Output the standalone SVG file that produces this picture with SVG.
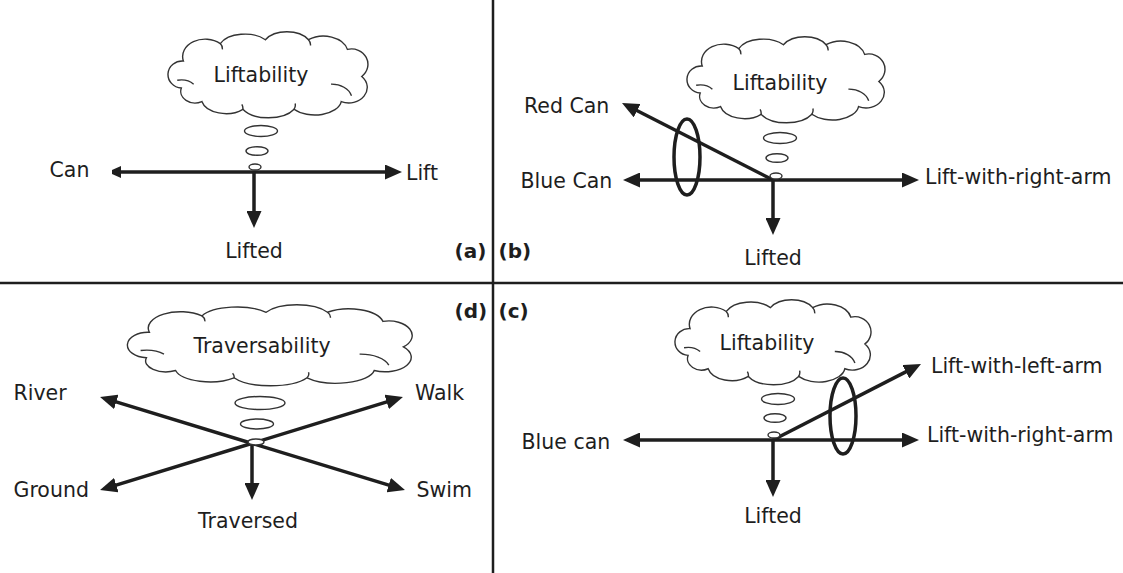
<svg xmlns="http://www.w3.org/2000/svg" width="1123" height="573" viewBox="0 0 1123 573">
<style>
text{font-family:"DejaVu Sans","Liberation Sans",sans-serif;font-size:20.5px;fill:#1e1e1e}
.lbl{font-weight:bold;font-size:20px}
.mid{text-anchor:middle}
.div{stroke:#1e1e1e;stroke-width:2.5;fill:none}
.arr{stroke:#1e1e1e;stroke-width:3.5;fill:none;marker-end:url(#ah)}
.arr2{stroke:#1e1e1e;stroke-width:3.5;fill:none;marker-end:url(#ah);marker-start:url(#ah)}
.cloud{fill:#fff;stroke:#333;stroke-width:1.4;vector-effect:non-scaling-stroke}
.inner{fill:none;stroke:#333;stroke-width:1.4;vector-effect:non-scaling-stroke}
.bub{fill:#fff;stroke:#333;stroke-width:1.4}
.grp{fill:none;stroke:#1e1e1e;stroke-width:3.5}
</style>
<defs>
<marker id="ah" viewBox="0 0 17 15" markerWidth="17" markerHeight="15" refX="7" refY="7.5" markerUnits="userSpaceOnUse" orient="auto-start-reverse">
<path d="M0,0 L17,7.5 L0,15 Z" fill="#1e1e1e"/>
</marker>
<marker id="ahs" viewBox="0 0 10 12" markerWidth="10" markerHeight="12" refX="0" refY="6" markerUnits="userSpaceOnUse" orient="auto-start-reverse">
<path d="M0,0 L9,4 L9,8 L0,12 Z" fill="#1e1e1e"/>
</marker>
<g id="cloudShape">
<path class="cloud" d="M14,58 A14,14 0 0 1 16,30 A22,18 0 0 1 52,12 A26,16 0 0 1 96,8 A24,16 0 0 1 138,8 A24,18 0 0 1 176,18 A16,16 0 0 1 190,46 A18,16 0 0 1 170,72 A26,16 0 0 1 124,80 A28,16 0 0 1 74,80 A24,16 0 0 1 34,72 A14,12 0 0 1 14,58 Z"/>
<path class="inner" d="M10,50 A16,12 0 0 1 26,54 M160,54 A20,16 0 0 1 180,66 M52,12 A8,8 0 0 1 54,18 M138,8 A8,8 0 0 1 140,14 M124,80 A8,8 0 0 0 125,74 M74,80 A8,8 0 0 0 73,75"/>
</g>
</defs>
<rect width="1123" height="573" fill="#fff"/>

<g id="dividers">
<line class="div" x1="493" y1="0" x2="493" y2="573"/>
<line class="div" x1="0" y1="283" x2="1123" y2="283"/>
</g>

<g id="connectors">
<!-- (a) -->
<line x1="121" y1="172" x2="392" y2="172" stroke="#1e1e1e" stroke-width="3.5" marker-start="url(#ahs)" marker-end="url(#ah)"/>
<line class="arr" x1="254" y1="172" x2="254" y2="218"/>
<!-- (b) -->
<line class="arr2" x1="633" y1="180" x2="909" y2="180"/>
<line class="arr" x1="773" y1="180" x2="630.9" y2="107.5"/>
<line class="arr" x1="773" y1="180" x2="773" y2="225"/>
<!-- (c) -->
<line class="arr2" x1="633" y1="440" x2="909" y2="440"/>
<line class="arr" x1="773" y1="440" x2="912.1" y2="368.6"/>
<line class="arr" x1="773" y1="440" x2="773" y2="487"/>
<!-- (d) -->
<line class="arr2" x1="109.6" y1="399.9" x2="395.4" y2="487.1"/>
<line class="arr2" x1="109.6" y1="487.1" x2="393.4" y2="399.9"/>
<line class="arr" x1="252" y1="443" x2="252" y2="490"/>
</g>

<g id="panel-a">
<use href="#cloudShape" transform="translate(167,32) scale(1.025,0.966)"/>
<text class="mid" x="261" y="82">Liftability</text>
<ellipse class="bub" cx="261" cy="131" rx="16.5" ry="5.5"/>
<ellipse class="bub" cx="257" cy="151" rx="11" ry="4.3"/>
<ellipse class="bub" cx="255" cy="167" rx="6" ry="3"/>
<text x="49.5" y="177">Can</text>
<text x="406" y="180">Lift</text>
<text class="mid" x="254" y="258">Lifted</text>
<text class="lbl" x="454.5" y="258">(a)</text>
</g>

<g id="panel-b">
<use href="#cloudShape" transform="translate(686,37) scale(1.015,0.966)"/>
<text class="mid" x="780" y="90">Liftability</text>
<ellipse class="bub" cx="780" cy="138" rx="16.5" ry="5.5"/>
<ellipse class="bub" cx="777" cy="158" rx="11" ry="4.3"/>
<ellipse class="bub" cx="776" cy="176" rx="6" ry="3"/>
<ellipse class="grp" cx="687" cy="157" rx="13" ry="38"/>
<text x="524" y="113">Red Can</text>
<text x="520.5" y="188">Blue Can</text>
<text x="925" y="184">Lift-with-right-arm</text>
<text class="mid" x="773" y="265">Lifted</text>
<text class="lbl" x="498.5" y="258">(b)</text>
</g>

<g id="panel-c">
<use href="#cloudShape" transform="translate(674,300) scale(1.005,0.955)"/>
<text class="mid" x="767" y="350">Liftability</text>
<ellipse class="bub" cx="778" cy="399" rx="16.5" ry="5.5"/>
<ellipse class="bub" cx="775" cy="418" rx="11" ry="4.3"/>
<ellipse class="bub" cx="774" cy="435" rx="6" ry="3"/>
<ellipse class="grp" cx="843" cy="416" rx="13" ry="38"/>
<text x="521.5" y="449">Blue can</text>
<text x="931" y="373">Lift-with-left-arm</text>
<text x="927" y="442">Lift-with-right-arm</text>
<text class="mid" x="773" y="523">Lifted</text>
<text class="lbl" x="498.5" y="318">(c)</text>
</g>

<g id="panel-d">
<use href="#cloudShape" transform="translate(126,305) scale(1.46,0.91)"/>
<text class="mid" x="262" y="353">Traversability</text>
<ellipse class="bub" cx="260" cy="403" rx="25" ry="6.5"/>
<ellipse class="bub" cx="257" cy="424" rx="16.5" ry="5"/>
<ellipse class="bub" cx="256" cy="442" rx="8" ry="3"/>
<text x="13.5" y="400">River</text>
<text x="415" y="400">Walk</text>
<text x="13.5" y="497">Ground</text>
<text x="416.5" y="497">Swim</text>
<text class="mid" x="248" y="528">Traversed</text>
<text class="lbl" x="454.5" y="318">(d)</text>
</g>
</svg>
